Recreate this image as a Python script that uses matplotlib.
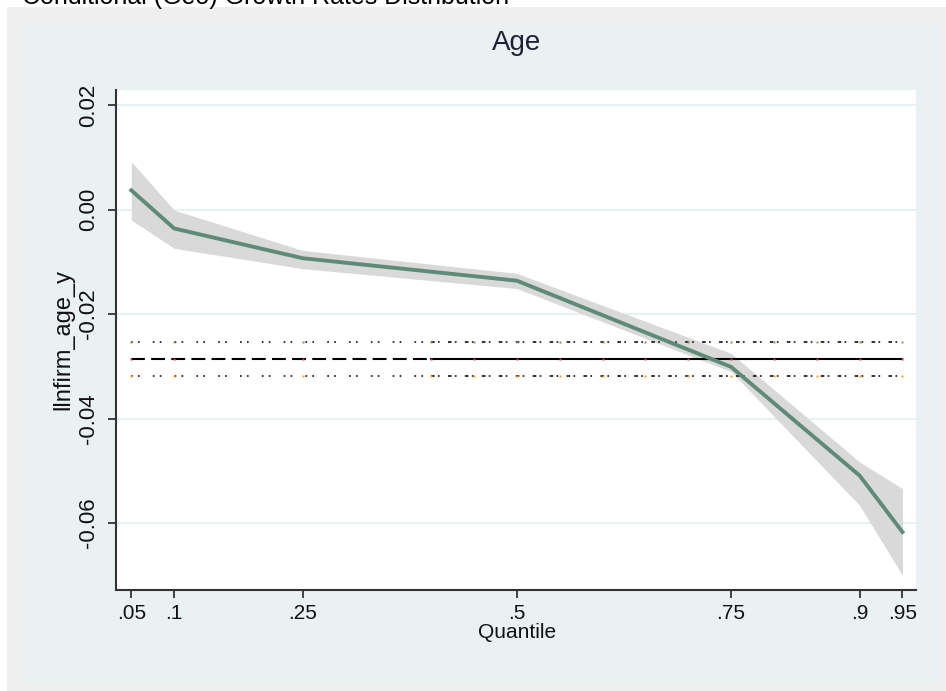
import matplotlib
matplotlib.use("Agg")
import matplotlib.pyplot as plt
from matplotlib import font_manager
from matplotlib.patches import Rectangle

# ---------------- data ----------------
quantiles = [0.05, 0.10, 0.25, 0.50, 0.75, 0.90, 0.95]
coef      = [0.0037, -0.0036, -0.0093, -0.0136, -0.0301, -0.0509, -0.0617]
ci_upper  = [0.0092, -0.0001, -0.0078, -0.0122, -0.0275, -0.0483, -0.0534]
ci_lower  = [-0.0020, -0.0074, -0.0113, -0.0151, -0.0310, -0.0566, -0.0700]

ols_grid  = [0.05, 0.10, 0.25, 0.40, 0.45, 0.50, 0.55, 0.60, 0.65,
             0.70, 0.75, 0.80, 0.85, 0.90, 0.95]
ols_coef  = -0.0285
ols_upper = -0.0254
ols_lower = -0.0319
ols_dash_until = 0.40

xticks = [0.05, 0.10, 0.25, 0.50, 0.75, 0.90, 0.95]
xticklabels = [".05", ".1", ".25", ".5", ".75", ".9", ".95"]
yticks = [0.02, 0.00, -0.02, -0.04, -0.06]
yticklabels = ["0.02", "0.00", "-0.02", "-0.04", "-0.06"]

title = "Age"
xlabel = "Quantile"
ylabel = "llnfirm_age_y"
top_caption = "Conditional (Geo) Growth Rates Distribution"

# ---------------- fonts ----------------
names = {f.name for f in font_manager.fontManager.ttflist}
if "Liberation Sans Narrow" in names:
    fam = ["Liberation Sans Narrow", "DejaVu Sans"]
else:
    fam = ["Liberation Sans", "DejaVu Sans"]
plt.rcParams["font.family"] = fam
plt.rcParams["lines.scale_dashes"] = False

W, H = 946, 691
fig = plt.figure(figsize=(W / 100, H / 100), dpi=100, facecolor="white")

def fx(x):
    return x / W

def fy(y):
    return 1 - y / H

# window / graph-region backgrounds
fig.patches.append(Rectangle((fx(7), fy(691)), fx(946 - 7), (691 - 7) / H,
                             transform=fig.transFigure, facecolor="#efefef",
                             edgecolor="none", zorder=-3))
fig.patches.append(Rectangle((fx(23), fy(682)), fx(940 - 23), (682 - 24) / H,
                             transform=fig.transFigure, facecolor="#eaf1f3",
                             edgecolor="none", zorder=-2))

ax_l, ax_r, ax_t, ax_b = 116, 916, 90, 590
ax = fig.add_axes([fx(ax_l), fy(ax_b), fx(ax_r - ax_l), (ax_b - ax_t) / H])
ax.set_facecolor("white")

ax.set_xlim(0.0321, 0.9658)
ax.set_ylim(-0.0728, 0.0229)

for s in ["top", "right"]:
    ax.spines[s].set_visible(False)
for s in ["left", "bottom"]:
    ax.spines[s].set_color("#333333")
    ax.spines[s].set_linewidth(1.5)

# gridlines
for yv in yticks:
    ax.axhline(yv, color="#e6eff2", lw=1.3, zorder=0)

# CI band and coefficient line
ax.fill_between(quantiles, ci_lower, ci_upper, color="#d9d9d9", lw=0, zorder=1)
ax.plot(quantiles, coef, color="#5e8b78", lw=2.8, zorder=3)

# OLS lines
dash_part = [q for q in ols_grid if q <= ols_dash_until]
solid_part = [q for q in ols_grid if q >= ols_dash_until]
ax.plot(dash_part, [ols_coef] * len(dash_part), color="black", lw=1.5,
        linestyle=(0, (10, 4.5)), zorder=2)
ax.plot(solid_part, [ols_coef] * len(solid_part), color="black", lw=1.5,
        linestyle="-", zorder=2)
for val in (ols_upper, ols_lower):
    ax.plot(dash_part, [val] * len(dash_part), color="#222222", lw=1.3,
            linestyle=(0, (1.2, 3.8, 1.2, 9.5)), zorder=2)
    ax.plot(solid_part, [val] * len(solid_part), color="#222222", lw=1.3,
            linestyle=(0, (2.6, 2.4, 1.2, 6)), zorder=2)
ax.plot(ols_grid, [ols_upper] * len(ols_grid), ls="none", marker="s",
        ms=1.4, mec="none", mfc="#7a9a4a", zorder=2.5)
ax.plot(ols_grid, [ols_coef] * len(ols_grid), ls="none", marker="s",
        ms=1.4, mec="none", mfc="#c0404a", zorder=2.5)
ax.plot(ols_grid, [ols_lower] * len(ols_grid), ls="none", marker="s",
        ms=1.4, mec="none", mfc="#ff9a20", zorder=2.5)

# ticks
ax.set_xticks(xticks)
ax.set_xticklabels(xticklabels)
ax.set_yticks(yticks)
ax.set_yticklabels(yticklabels, rotation=90, va="center")
ax.tick_params(axis="both", direction="out", length=5.5, width=1.3,
               color="#333333", labelcolor="#111111")
ax.tick_params(axis="x", labelsize=15, pad=4.5)
ax.tick_params(axis="y", labelsize=16, pad=6.5)

# labels
fig.text(fx(517), fy(632), xlabel, ha="center", va="center", fontsize=15,
         color="#111111")
fig.text(fx(63), fy(340), ylabel, ha="center", va="center", fontsize=17,
         rotation=90, color="#111111")
fig.text(fx(517), fy(43), title, ha="center", va="center", fontsize=20,
         color="#1c2233")

# top caption, mostly cut off by the window edge (as in the reference)
fig.text(fx(22), fy(4), top_caption, ha="left", va="baseline", fontsize=18,
         color="black")

fig.savefig("out.png", dpi=100, facecolor=fig.get_facecolor())
